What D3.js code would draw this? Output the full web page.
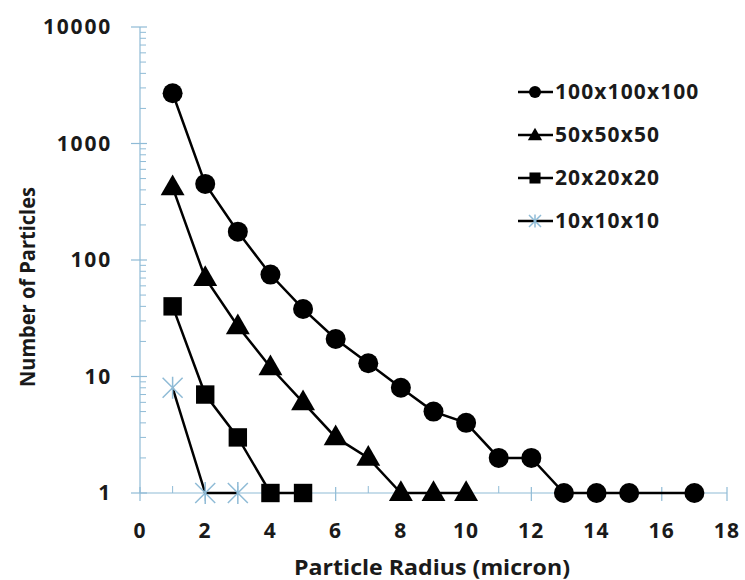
<!DOCTYPE html>
<html><head><meta charset="utf-8">
<script src="https://d3js.org/d3.v7.min.js"></script>
<style>body{margin:0;background:#fff}svg{display:block}text{font-family:"Open Sans",sans-serif;font-weight:700;fill:#1a1a1a}</style>
</head><body><svg id="c" width="745" height="580"></svg>
<script>
const seriesNames = ["100x100x100","50x50x50","20x20x20","10x10x10"];
const x100 = [1,2,3,4,5,6,7,8,9,10,11,12,13,14,15,17];
const y100 = [2700,450,175,75,38,21,13,8,5,4,2,2,1,1,1,1];
const x50 = [1,2,3,4,5,6,7,8,9,10];
const y50 = [420,70,27,12,6,3,2,1,1,1];
const x20 = [1,2,3,4,5];
const y20 = [40,7,3,1,1];
const x10 = [1,2,3];
const y10 = [8,1,1];
const xTickLabels = [0,2,4,6,8,10,12,14,16,18];
const yTickLabels = [1,10,100,1000,10000];
const markers = ["circle","triangle","square","star"];

const svg = d3.select("#c");
const axisColor = "#8fbbd6";
const x = d3.scaleLinear().domain([0,18]).range([140,727]);
const y = d3.scaleLog().domain([1,10000]).range([493,27]);

// axes lines
svg.append("line").attr("x1",x(0)).attr("x2",x(0)).attr("y1",y(10000)).attr("y2",y(1)).attr("stroke",axisColor).attr("stroke-width",1.2);
svg.append("line").attr("x1",x(0)).attr("x2",x(18)).attr("y1",y(1)).attr("y2",y(1)).attr("stroke",axisColor).attr("stroke-width",1.2);

// y ticks
const minor = [];
for (let d=1; d<10000; d*=10) for (let k=2;k<=9;k++) minor.push(d*k);
svg.selectAll(".ym").data(minor).join("line").attr("x1",x(0)).attr("x2",x(0)+6).attr("y1",d=>y(d)).attr("y2",d=>y(d)).attr("stroke",axisColor).attr("stroke-width",1);
svg.selectAll(".yM").data(yTickLabels).join("line").attr("x1",x(0)-9).attr("x2",x(0)+7).attr("y1",d=>y(d)).attr("y2",d=>y(d)).attr("stroke",axisColor).attr("stroke-width",1.2);
svg.selectAll(".yl").data(yTickLabels).join("text").attr("x",112).attr("y",d=>y(d)).attr("dy","0.35em").attr("text-anchor","end").attr("font-size",21).attr("letter-spacing",1.8).text(d=>d);

// x ticks
const xMinor = d3.range(1,18,2);
svg.selectAll(".xm").data(xMinor).join("line").attr("x1",d=>x(d)).attr("x2",d=>x(d)).attr("y1",y(1)-7).attr("y2",y(1)).attr("stroke",axisColor).attr("stroke-width",1);
svg.selectAll(".xM").data(xTickLabels).join("line").attr("x1",d=>x(d)).attr("x2",d=>x(d)).attr("y1",y(1)-6).attr("y2",y(1)+8).attr("stroke",axisColor).attr("stroke-width",1.2);
svg.selectAll(".xl").data(xTickLabels).join("text").attr("x",d=>x(d)).attr("y",531).attr("dy","0.35em").attr("text-anchor","middle").attr("font-size",21).attr("letter-spacing",1.2).text(d=>d);

// titles
svg.append("text").attr("x",432).attr("y",568).attr("dy","0.35em").attr("text-anchor","middle").attr("font-size",21).attr("textLength",276).attr("lengthAdjust","spacingAndGlyphs").text("Particle Radius (micron)");
svg.append("text").attr("transform","translate(28,287) rotate(-90)").attr("dy","0.35em").attr("text-anchor","middle").attr("font-size",21).attr("textLength",200).attr("lengthAdjust","spacingAndGlyphs").text("Number of Particles");

function drawMarker(g, type, cx, cy, s) {
  if (type==="circle") g.append("circle").attr("cx",cx).attr("cy",cy).attr("r",s*0.5).attr("fill","#000");
  else if (type==="triangle") g.append("path").attr("d",d3.symbol(d3.symbolTriangle, s*s*0.62)()).attr("transform",`translate(${cx},${cy+1})`).attr("fill","#000");
  else if (type==="square") g.append("rect").attr("x",cx-s*0.46).attr("y",cy-s*0.46).attr("width",s*0.92).attr("height",s*0.92).attr("fill","#000");
  else {
    const r = s*0.5;
    const p = `M${cx-r},${cy-r}L${cx+r},${cy+r}M${cx-r},${cy+r}L${cx+r},${cy-r}M${cx},${cy-r*1.1}L${cx},${cy+r*1.1}`;
    g.append("path").attr("d",p).attr("stroke",axisColor).attr("stroke-width",1.5).attr("fill","none");
  }
}

const series = [[x100,y100],[x50,y50],[x20,y20],[x10,y10]];
const line = d3.line().x(d=>x(d[0])).y(d=>y(d[1]));
series.forEach((s,i)=>{
  const pts = s[0].map((v,j)=>[v,s[1][j]]);
  svg.append("path").attr("d",line(pts)).attr("fill","none").attr("stroke","#000").attr("stroke-width",2.5);
});
series.forEach((s,i)=>{
  const g = svg.append("g");
  s[0].forEach((v,j)=>drawMarker(g, markers[i], x(v), y(s[1][j]), 20));
});

// legend
const legY = [92,135,178,221];
seriesNames.forEach((n,i)=>{
  const g = svg.append("g");
  g.append("line").attr("x1",518).attr("x2",553).attr("y1",legY[i]).attr("y2",legY[i]).attr("stroke","#000").attr("stroke-width",2.5);
  drawMarker(g, markers[i], 535, legY[i], 12);
  g.append("text").attr("x",555).attr("y",legY[i]).attr("dy","0.35em").attr("font-size",21).attr("letter-spacing",1.1).text(n);
});
</script></body></html>
